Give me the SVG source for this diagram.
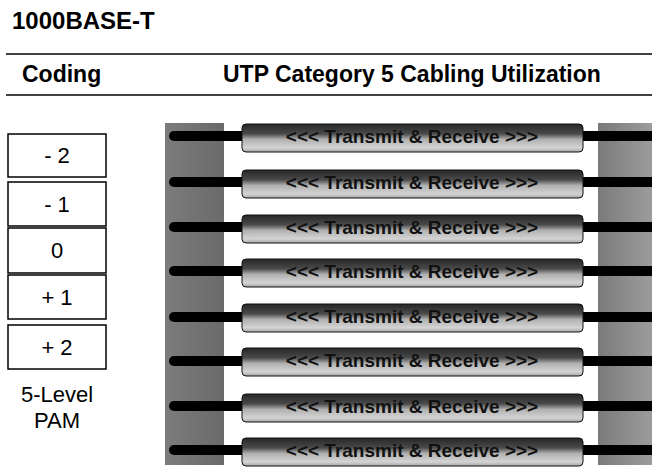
<svg xmlns="http://www.w3.org/2000/svg" width="652" height="467" viewBox="0 0 652 467">
  <defs>
    <linearGradient id="cable" x1="0" y1="0" x2="0" y2="1">
      <stop offset="0" stop-color="#262626"/>
      <stop offset="0.35" stop-color="#4a4a4a"/>
      <stop offset="0.55" stop-color="#b0b0b0"/>
      <stop offset="0.85" stop-color="#d4d4d4"/>
      <stop offset="1" stop-color="#a8a8a8"/>
    </linearGradient>
    <linearGradient id="blockL" x1="0" y1="0" x2="1" y2="0">
      <stop offset="0" stop-color="#7c7c7c"/>
      <stop offset="1" stop-color="#6a6a6a"/>
    </linearGradient>
    <linearGradient id="blockR" x1="0" y1="0" x2="1" y2="0">
      <stop offset="0" stop-color="#7a7a7a"/>
      <stop offset="1" stop-color="#9c9c9c"/>
    </linearGradient>
  </defs>
  <style>
    .t { font-family: "Liberation Sans", Arial, sans-serif; fill: #000; }
    .bold { font-weight: bold; }
    .box { fill: #fff; stroke: #000; stroke-width: 1.5; }
    .rule { stroke: #000; stroke-width: 1.5; }
    .num { font-size: 22px; text-anchor: middle; }
    .body { fill: url(#cable); stroke: #111; stroke-width: 1; }
    .lbl { font-size: 19px; font-weight: bold; text-anchor: middle; fill: #111; }
    .stub { stroke: #000; stroke-width: 10; stroke-linecap: round; fill: none; }
  </style>
  <rect width="652" height="467" fill="#fff"/>

  <g id="title">
    <text class="t bold" x="12" y="29" font-size="24">1000BASE-T</text>
  </g>
  <g id="header">
    <line class="rule" x1="6" y1="54" x2="652" y2="54"/>
    <line class="rule" x1="6" y1="95" x2="652" y2="95"/>
    <text class="t bold" x="22" y="82" font-size="23">Coding</text>
    <text class="t bold" x="223" y="82" font-size="23">UTP Category 5 Cabling Utilization</text>
  </g>

  <g id="level-m2"><rect class="box" x="8" y="134" width="98" height="43"/><text class="t num" x="57" y="163">- 2</text></g>
  <g id="level-m1"><rect class="box" x="8" y="182" width="98" height="44"/><text class="t num" x="57" y="212">- 1</text></g>
  <g id="level-0"><rect class="box" x="8" y="228" width="98" height="45"/><text class="t num" x="57" y="258">0</text></g>
  <g id="level-p1"><rect class="box" x="8" y="275" width="98" height="44"/><text class="t num" x="57" y="305">+ 1</text></g>
  <g id="level-p2"><rect class="box" x="8" y="325" width="98" height="44"/><text class="t num" x="57" y="355">+ 2</text></g>
  <g id="pam-label">
    <text class="t num" x="57" y="402">5-Level</text>
    <text class="t num" x="57" y="428">PAM</text>
  </g>

  <g id="block-left"><rect x="165" y="123" width="59" height="342" fill="url(#blockL)"/></g>
  <g id="block-right"><rect x="598" y="123" width="54" height="342" fill="url(#blockR)"/></g>

  <g id="connectors">
    <line class="stub" x1="174" y1="136" x2="250" y2="136"/><line class="stub" x1="578" y1="136" x2="652" y2="136"/>
    <line class="stub" x1="174" y1="182" x2="250" y2="182"/><line class="stub" x1="578" y1="182" x2="652" y2="182"/>
    <line class="stub" x1="174" y1="227" x2="250" y2="227"/><line class="stub" x1="578" y1="227" x2="652" y2="227"/>
    <line class="stub" x1="174" y1="271" x2="250" y2="271"/><line class="stub" x1="578" y1="271" x2="652" y2="271"/>
    <line class="stub" x1="174" y1="317" x2="250" y2="317"/><line class="stub" x1="578" y1="317" x2="652" y2="317"/>
    <line class="stub" x1="174" y1="361" x2="250" y2="361"/><line class="stub" x1="578" y1="361" x2="652" y2="361"/>
    <line class="stub" x1="174" y1="406" x2="250" y2="406"/><line class="stub" x1="578" y1="406" x2="652" y2="406"/>
    <line class="stub" x1="174" y1="450" x2="250" y2="450"/><line class="stub" x1="578" y1="450" x2="652" y2="450"/>
  </g>

  <g id="cable-1"><rect class="body" x="242" y="124" width="341" height="28" rx="4"/><text class="t lbl" x="412" y="143">&lt;&lt;&lt; Transmit &amp; Receive &gt;&gt;&gt;</text></g>
  <g id="cable-2"><rect class="body" x="242" y="170" width="341" height="28" rx="4"/><text class="t lbl" x="412" y="189">&lt;&lt;&lt; Transmit &amp; Receive &gt;&gt;&gt;</text></g>
  <g id="cable-3"><rect class="body" x="242" y="215" width="341" height="28" rx="4"/><text class="t lbl" x="412" y="234">&lt;&lt;&lt; Transmit &amp; Receive &gt;&gt;&gt;</text></g>
  <g id="cable-4"><rect class="body" x="242" y="259" width="341" height="28" rx="4"/><text class="t lbl" x="412" y="278">&lt;&lt;&lt; Transmit &amp; Receive &gt;&gt;&gt;</text></g>
  <g id="cable-5"><rect class="body" x="242" y="304" width="341" height="28" rx="4"/><text class="t lbl" x="412" y="323">&lt;&lt;&lt; Transmit &amp; Receive &gt;&gt;&gt;</text></g>
  <g id="cable-6"><rect class="body" x="242" y="348" width="341" height="28" rx="4"/><text class="t lbl" x="412" y="367">&lt;&lt;&lt; Transmit &amp; Receive &gt;&gt;&gt;</text></g>
  <g id="cable-7"><rect class="body" x="242" y="394" width="341" height="28" rx="4"/><text class="t lbl" x="412" y="413">&lt;&lt;&lt; Transmit &amp; Receive &gt;&gt;&gt;</text></g>
  <g id="cable-8"><rect class="body" x="242" y="438" width="341" height="28" rx="4"/><text class="t lbl" x="412" y="457">&lt;&lt;&lt; Transmit &amp; Receive &gt;&gt;&gt;</text></g>
</svg>
